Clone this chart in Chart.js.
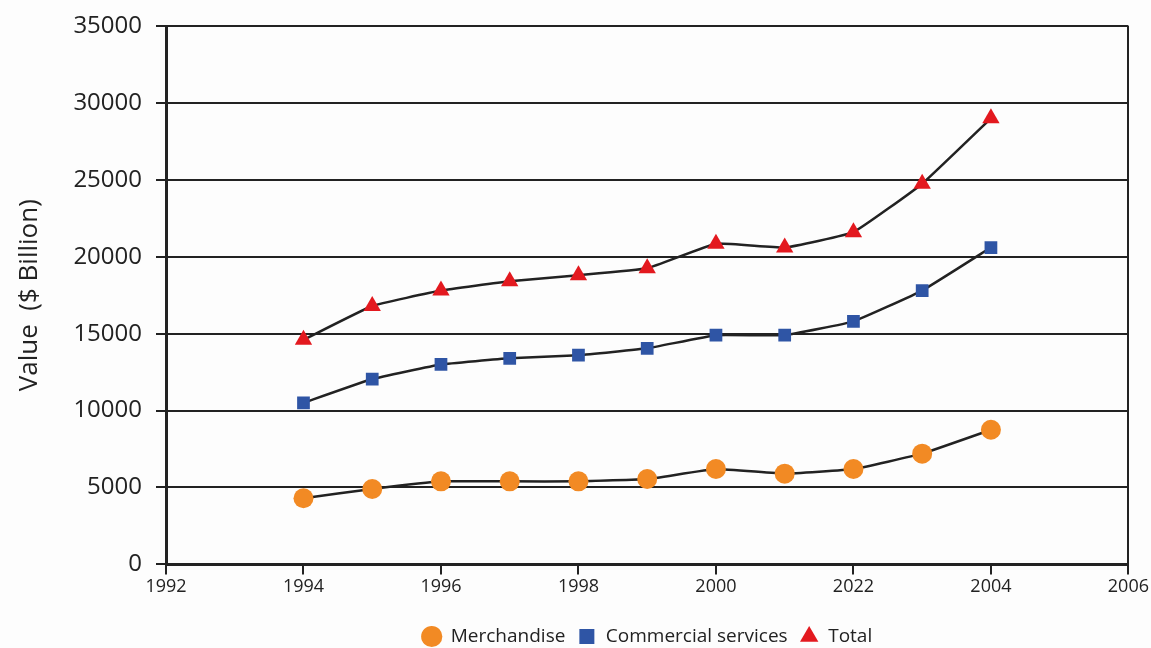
<!DOCTYPE html>
<html lang="en">
<head>
    <meta charset="UTF-8">
    <title>Trade Value</title>
    <script src="https://cdn.jsdelivr.net/npm/chart.js"></script>
    <style>
        html, body {
            margin: 0;
            padding: 0;
            background-color: #fdfdfd;
        }
        .chart-wrap {
            position: relative;
            width: 1151px;
            height: 648px;
        }
    </style>
</head>
<body>
    <div class="chart-wrap">
        <canvas id="tradeChart"></canvas>
    </div>

    <script>
        // years on the x axis
        const years = [1994, 1995, 1996, 1997, 1998, 1999, 2000, 2001, 2002, 2003, 2004];

        // values in $ billion
        const merchandise = [4300, 4900, 5400, 5400, 5400, 5550, 6200, 5900, 6200, 7200, 8750];
        const commercialServices = [10500, 12050, 13000, 13400, 13600, 14050, 14900, 14900, 15800, 17800, 20600];
        const total = [14600, 16800, 17800, 18400, 18800, 19250, 20850, 20600, 21600, 24750, 29000];

        // tick labels as printed on the axis
        const xTickValues = [1992, 1994, 1996, 1998, 2000, 2002, 2004, 2006];
        const xTickLabels = ['1992', '1994', '1996', '1998', '2000', '2022', '2004', '2006'];

        const toPoints = vals => vals.map((v, i) => ({ x: years[i], y: v }));

        const lineColor = '#222222';
        const font = "'Open Sans', 'Noto Sans', sans-serif";

        const ctx = document.getElementById('tradeChart').getContext('2d');
        new Chart(ctx, {
            type: 'line',
            data: {
                datasets: [
                    {
                        label: 'Merchandise',
                        data: toPoints(merchandise),
                        borderColor: lineColor,
                        borderWidth: 2.5,
                        backgroundColor: '#f28a24',
                        pointBackgroundColor: '#f28a24',
                        pointBorderWidth: 0,
                        pointStyle: 'circle',
                        pointRadius: 10,
                        tension: 0.1
                    },
                    {
                        label: 'Commercial services',
                        data: toPoints(commercialServices),
                        borderColor: lineColor,
                        borderWidth: 2.5,
                        backgroundColor: '#2f55a5',
                        pointBackgroundColor: '#2f55a5',
                        pointBorderWidth: 0,
                        pointStyle: 'rect',
                        pointRadius: 9,
                        tension: 0.1
                    },
                    {
                        label: 'Total',
                        data: toPoints(total),
                        borderColor: lineColor,
                        borderWidth: 2.5,
                        backgroundColor: '#e3191f',
                        pointBackgroundColor: '#e3191f',
                        pointBorderWidth: 0,
                        pointStyle: 'triangle',
                        pointRadius: 10,
                        tension: 0.1
                    }
                ]
            },
            options: {
                responsive: true,
                maintainAspectRatio: false,
                animation: false,
                layout: {
                    padding: { top: 0, right: 4, bottom: -8, left: 10 }
                },
                scales: {
                    x: {
                        type: 'linear',
                        min: 1992,
                        max: 2006,
                        afterBuildTicks: axis => {
                            axis.ticks = xTickValues.map(v => ({ value: v }));
                        },
                        // leave room between the year labels and the legend
                        afterFit: axis => {
                            axis.height += 15;
                        },
                        ticks: {
                            color: '#222',
                            font: { family: font, size: 18 },
                            padding: 2,
                            callback: (value) => {
                                const i = xTickValues.indexOf(value);
                                return i >= 0 ? xTickLabels[i] : '';
                            }
                        },
                        grid: {
                            color: c => (c.tick && c.tick.value === 2006) ? lineColor : 'rgba(0,0,0,0)',
                            tickColor: lineColor,
                            lineWidth: 2,
                            tickLength: 10
                        },
                        border: { color: lineColor, width: 3 }
                    },
                    y: {
                        min: 0,
                        max: 35000,
                        afterFit: axis => {
                            axis.width = 156;
                        },
                        ticks: {
                            stepSize: 5000,
                            color: '#222',
                            font: { family: font, size: 24, weight: '500', lineHeight: 1 },
                            padding: 14,
                            callback: value => String(value)
                        },
                        grid: {
                            color: lineColor,
                            lineWidth: 2,
                            tickLength: 10
                        },
                        border: { color: lineColor, width: 3 },
                        title: {
                            display: true,
                            text: 'Value  ($ Billion)',
                            color: '#222',
                            font: { family: font, size: 26 },
                            padding: { top: 4, bottom: 0 }
                        }
                    }
                },
                plugins: {
                    legend: {
                        position: 'bottom',
                        fullSize: false,
                        labels: {
                            usePointStyle: true,
                            boxHeight: 15,
                            color: '#222',
                            font: { family: font, size: 19 },
                            padding: 12
                        }
                    },
                    tooltip: { enabled: false }
                }
            }
        });
    </script>
</body>
</html>
